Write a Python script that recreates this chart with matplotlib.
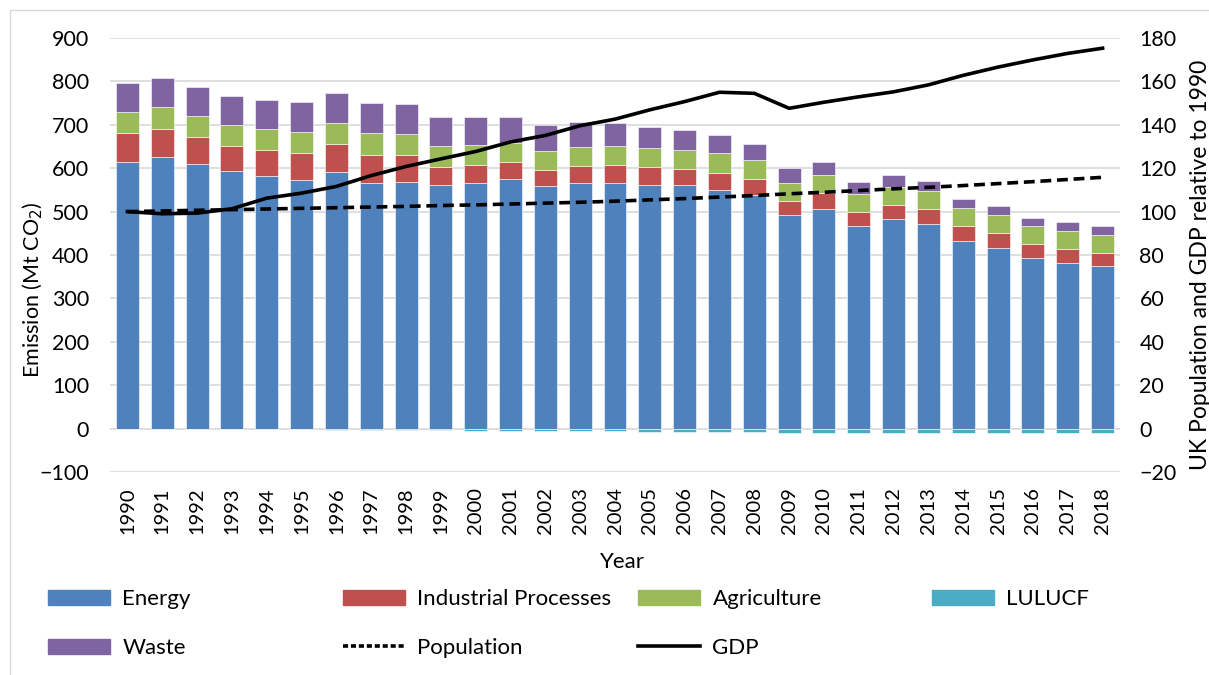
import numpy as np
import matplotlib
matplotlib.use("Agg")
import matplotlib.pyplot as plt
from matplotlib.patches import Patch, Rectangle
from matplotlib.lines import Line2D

plt.rcParams['font.family'] = ['Lato', 'DejaVu Sans']

years = list(range(1990, 2019))

energy = [615, 625, 609, 594, 581, 572, 591, 565, 569, 561,
          565, 575, 559, 565, 565, 562, 561, 550, 538, 492,
          506, 466, 483, 472, 432, 416, 394, 382, 374]
industrial = [66, 66, 62, 58, 60, 62, 64, 66, 62, 41,
              42, 40, 36, 41, 42, 40, 38, 40, 38, 33,
              38, 32, 33, 33, 35, 34, 31, 31, 30]
agriculture = [49, 49, 49, 47, 49, 49, 49, 49, 47, 49,
               47, 44, 45, 44, 44, 45, 44, 45, 42, 40,
               41, 42, 40, 43, 42, 42, 42, 42, 42]
waste = [67, 68, 67, 68, 68, 69, 70, 70, 70, 66,
         63, 60, 60, 57, 53, 49, 45, 42, 38, 35,
         30, 28, 28, 23, 20, 20, 19, 20, 21]
lulucf = [0, -0.5, -1, -1.5, -2, -2, -2.5, -3, -4, -4,
          -4.5, -5, -6, -6, -6.5, -7, -7.5, -8, -8, -9,
          -9, -9, -9, -9, -9.5, -9.5, -10, -10, -11]

population = [100, 100.3, 100.6, 100.9, 101.2, 101.5, 101.8, 102.1, 102.4, 102.8,
              103.1, 103.5, 103.9, 104.3, 104.8, 105.4, 106.0, 106.7, 107.4, 108.2,
              108.9, 109.7, 110.5, 111.2, 112.0, 112.9, 113.8, 114.8, 115.8]
gdp = [100, 99.0, 99.3, 101.3, 106.2, 108.5, 111.6, 116.6, 120.8, 124.3,
       127.7, 132.1, 135.1, 139.6, 142.6, 146.9, 150.7, 155.0, 154.5, 147.6,
       150.4, 152.9, 155.2, 158.4, 162.8, 166.6, 169.9, 172.9, 175.3]

c_energy = '#4F81BD'
c_ind = '#C0504D'
c_agr = '#9BBB59'
c_lul = '#4BACC6'
c_waste = '#8064A2'

W, H = 1209, 675
fig = plt.figure(figsize=(W / 100, H / 100), dpi=100)
ax = fig.add_axes([110 / W, 1 - 472 / H, 1010 / W, 434 / H])

x = np.arange(len(years))
w = 0.66
energy = np.array(energy)
industrial = np.array(industrial)
agriculture = np.array(agriculture)
waste = np.array(waste)

kw = dict(width=w, edgecolor='white', linewidth=0.4, zorder=2)
ax.bar(x, energy, color=c_energy, **kw)
ax.bar(x, industrial, bottom=energy, color=c_ind, **kw)
ax.bar(x, agriculture, bottom=energy + industrial, color=c_agr, **kw)
ax.bar(x, lulucf, color=c_lul, **kw)
ax.bar(x, waste, bottom=energy + industrial + agriculture, color=c_waste, **kw)

ax.set_xlim(-0.5, len(years) - 0.5)
ax.set_ylim(-100, 900)
ax.set_yticks(np.arange(-100, 901, 100))
ax.set_xticks(x)
ax.set_xticklabels([str(y) for y in years], rotation=90)
ax.grid(axis='y', color='#d9d9d9', linewidth=1.2, zorder=0)
ax.set_axisbelow(True)
for s in ax.spines.values():
    s.set_visible(False)
ax.tick_params(axis='y', length=0, labelsize=15.5, pad=15)
ax.tick_params(axis='x', length=0, labelsize=14.5, pad=11)

fig.text(33 / W, 1 - 290 / H, 'Emission (Mt CO$_2$)', rotation=90,
         ha='center', va='center', fontsize=15.5)
fig.text(622 / W, 1 - 562 / H, 'Year', ha='center', va='center', fontsize=16)

ax2 = ax.twinx()
ax2.set_ylim(-20, 180)
ax2.set_yticks(np.arange(-20, 181, 20))
ax2.plot(x, population, color='black', linestyle=(0, (3, 1.6)), linewidth=2.6)
ax2.plot(x, gdp, color='black', linewidth=2.6)
for s in ax2.spines.values():
    s.set_visible(False)
ax2.tick_params(length=0, labelsize=15.5, pad=14)
fig.text(1190 / W, 1 - 470 / H, 'UK Population and GDP relative to 1990',
         rotation=90, ha='left', va='bottom', fontsize=16.5)

# legend: four fixed columns, two rows (Excel layout)
columns = [
    ([Patch(color=c_energy), Patch(color=c_waste)], ['Energy', 'Waste']),
    ([Patch(color=c_ind),
      Line2D([], [], color='black', linestyle=(0, (1.4, 0.8)), linewidth=2.6)],
     ['Industrial Processes', 'Population']),
    ([Patch(color=c_agr), Line2D([], [], color='black', linewidth=2.6)],
     ['Agriculture', 'GDP']),
    ([Patch(color=c_lul)], ['LULUCF']),
]
col_x = [48, 343, 638, 932]
for cx, (hs, ls) in zip(col_x, columns):
    fig.legend(hs, ls, loc='upper left', bbox_to_anchor=(cx / W, 1 - 589 / H),
               frameon=False, fontsize=16, handlelength=2.8, handleheight=0.65,
               handletextpad=0.55, labelspacing=1.3, borderpad=0, borderaxespad=0)

fig.add_artist(Rectangle((10 / W, -0.05), 1.2, 1 + 0.05 - 10 / H,
                         transform=fig.transFigure, fill=False,
                         edgecolor='#d9d9d9', linewidth=1))

fig.savefig('out.png', dpi=100)
